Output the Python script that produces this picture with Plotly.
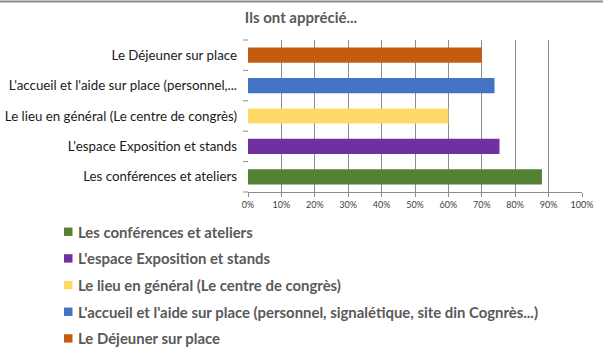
import plotly.graph_objects as go

categories = [
    "Les conférences et ateliers",
    "L'espace Exposition et stands",
    "Le lieu en général (Le centre de congrès)",
    "L'accueil et l'aide sur place (personnel, signalétique, site din Cognrès...)",
    "Le Déjeuner sur place",
]
axis_labels = [
    "Les conférences et ateliers",
    "L'espace Exposition et stands",
    "Le lieu en général (Le centre de congrès)",
    "L'accueil et l'aide sur place (personnel,...",
    "Le Déjeuner sur place",
]
values = [0.88, 0.753, 0.60, 0.738, 0.70]
colors = ["#548235", "#7030A0", "#FFD966", "#4472C4", "#C55A11"]
x_ticks = [i / 10 for i in range(11)]
x_ticklabels = [f"{i*10}%" for i in range(11)]
title = "Ils ont apprécié..."

W, H = 603, 347
L, R, T, B = 248, 582, 39.5, 191.7


def px_x(px):
    return (px - L) / (R - L)


def px_y(py):
    return (B - py) / (B - T)


fig = go.Figure()
for cat, lab, v, c in zip(categories, axis_labels, values, colors):
    fig.add_trace(go.Bar(
        x=[v], y=[lab], orientation="h", name=cat,
        marker=dict(color=c, line=dict(width=0)),
        width=0.5, showlegend=False,
    ))

fig.update_layout(
    width=W, height=H,
    margin=dict(l=L, r=W - R, t=T, b=H - B, pad=0, autoexpand=False),
    paper_bgcolor="white", plot_bgcolor="white",
    barmode="overlay",
    font=dict(family="Lato, sans-serif", color="#000000"),
    title=dict(text="<b>" + title + "</b>", x=301 / W, xanchor="center",
               y=1 - 18 / H, yanchor="middle",
               font=dict(size=15, color="#595959", family="Lato, sans-serif")),
    xaxis=dict(range=[0, 1], tickvals=x_ticks, ticktext=x_ticklabels,
               showgrid=True, gridcolor="#8c8c8c", gridwidth=1,
               showline=True, linecolor="#8c8c8c", linewidth=1,
               ticks="outside", ticklen=4, tickcolor="#8c8c8c", tickangle=0,
               tickfont=dict(size=9, color="#404040"), zeroline=False,
               automargin=False, fixedrange=True),
    yaxis=dict(categoryorder="array", categoryarray=axis_labels,
               showgrid=False, showline=False, ticks="",
               tickfont=dict(size=13.3, color="#1a1a1a"),
               ticklabelstandoff=10, automargin=False, fixedrange=True),
    showlegend=False,
)

# y-axis boundary ticks (between categories) as short lines
for i in range(6):
    fig.add_shape(type="line", xref="paper", yref="paper",
                  x0=px_x(243), x1=0, y0=i / 5, y1=i / 5,
                  line=dict(color="#8c8c8c", width=1))
# top frame line
fig.add_shape(type="line", xref="paper", yref="paper",
              x0=px_x(0), x1=px_x(W), y0=px_y(1), y1=px_y(1),
              line=dict(color="#8c8c8c", width=2))

# legend (drawn below the plot)
row0, step = 231.5, 26.7
for i, (cat, c) in enumerate(zip(categories, colors)):
    cy = row0 + i * step
    fig.add_shape(type="rect", xref="paper", yref="paper",
                  x0=px_x(64), x1=px_x(72.5), y0=px_y(cy - 4.2), y1=px_y(cy + 4.2),
                  fillcolor=c, line=dict(width=0))
    fig.add_annotation(xref="paper", yref="paper", x=px_x(76), y=px_y(cy),
                       xanchor="left", yanchor="middle", showarrow=False,
                       text="<b>" + cat + "</b>",
                       font=dict(size=14.9, color="#595959", family="Lato, sans-serif"))

fig.write_html("out.html")
